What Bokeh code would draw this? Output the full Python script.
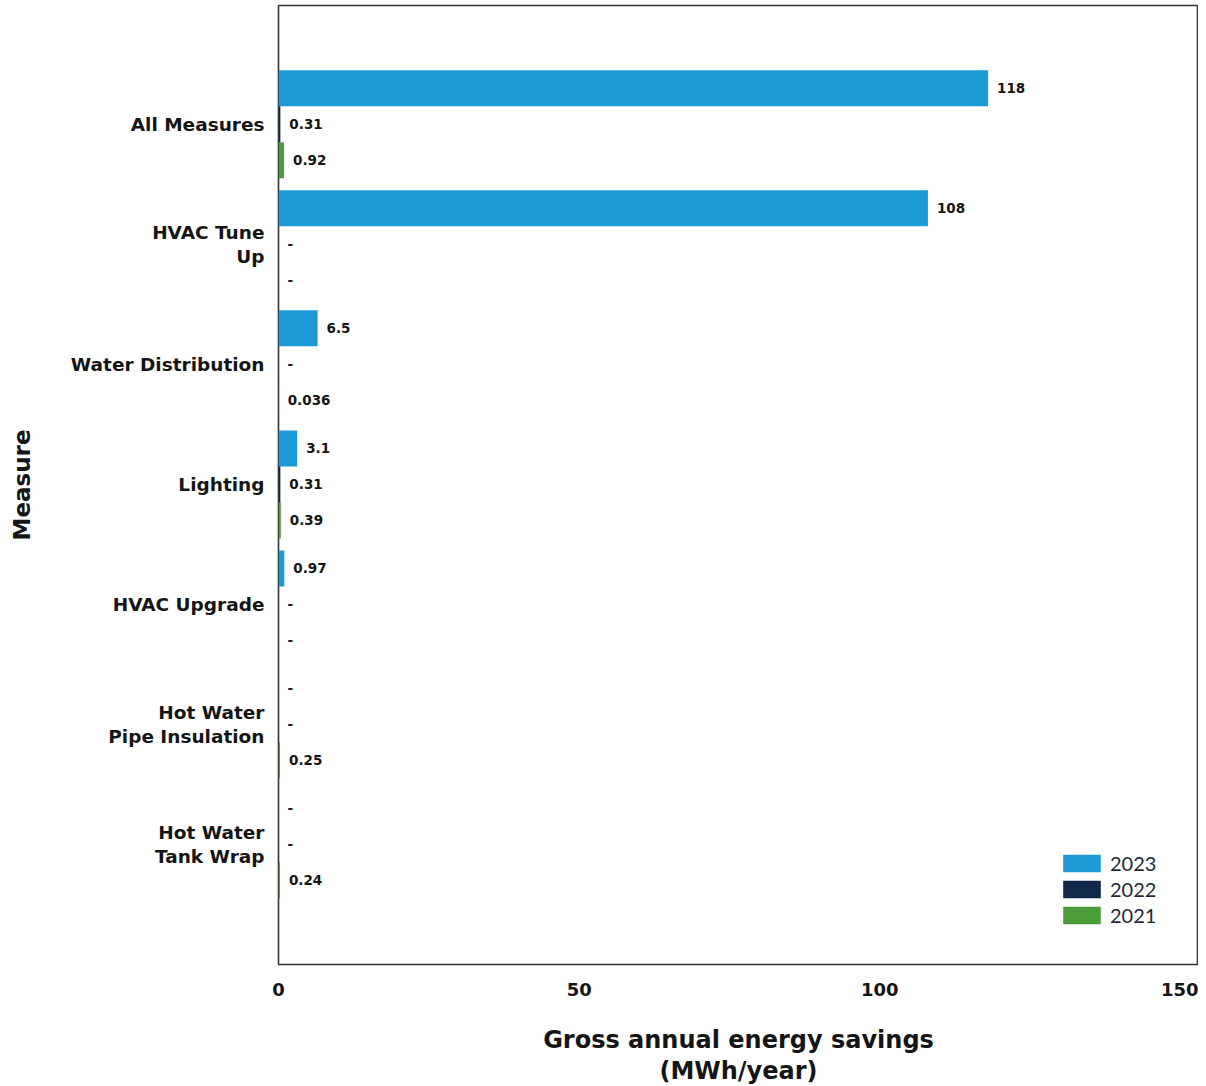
from bokeh.plotting import figure
from bokeh.models import Range1d, FixedTicker, ColumnDataSource, Legend, LegendItem
from bokeh.embed import file_html
from bokeh.resources import INLINE
from bokeh.core.properties import value

measures = ["All Measures", "HVAC Tune\nUp", "Water Distribution", "Lighting",
            "HVAC Upgrade", "Hot Water\nPipe Insulation", "Hot Water\nTank Wrap"]
years = ["2023", "2022", "2021"]
savings_2023 = [118, 108, 6.5, 3.1, 0.97, None, None]
savings_2022 = [0.31, None, None, 0.31, None, None, None]
savings_2021 = [0.92, None, 0.036, 0.39, None, 0.25, 0.24]
x_ticks = [0, 50, 100, 150]

series = [savings_2023, savings_2022, savings_2021]
colors = ["#1b9ad6", "#10284a", "#4c9c3b"]
offsets = [-0.3, 0.0, 0.3]

FONT = "DejaVu Sans"
TXT = "#151515"

p = figure(width=1198, frame_height=959,
           x_range=Range1d(0, 153), y_range=Range1d(7.0, -0.99),
           output_backend="svg", toolbar_location=None,
           min_border_left=278, min_border_top=5, min_border_right=0,
           min_border_bottom=0)
p.background_fill_color = "white"
p.border_fill_color = "white"
p.outline_line_color = "#333333"
p.outline_line_width = 1.6
p.xgrid.visible = False
p.ygrid.visible = False

renderers = []
for vals, col, off, yr in zip(series, colors, offsets, years):
    ys = [i + off for i in range(len(measures))]
    widths = [v if v is not None else 0 for v in vals]
    labels = [f"{v:g}" if v is not None else "-" for v in vals]
    src = ColumnDataSource(dict(y=ys, right=widths, label=labels))
    r = p.hbar(y="y", left=0, right="right", height=0.3, source=src,
               fill_color=col, line_color=None)
    renderers.append((yr, r))
    p.text(x="right", y="y", text="label", source=src, x_offset=9,
           text_baseline="middle", text_align="left",
           text_font=value(FONT), text_font_style="bold",
           text_font_size="13.5px", text_color=TXT)

# x axis
xa = p.xaxis[0]
xa.ticker = FixedTicker(ticks=x_ticks)
xa.axis_line_color = None
xa.major_tick_line_color = None
xa.minor_tick_line_color = None
xa.major_tick_out = 0
xa.major_label_standoff = 18
xa.major_label_text_font = FONT
xa.major_label_text_font_style = "bold"
xa.major_label_text_font_size = "18px"
xa.major_label_text_color = TXT
xa.axis_label = "Gross annual energy savings\n(MWh/year)"
xa.axis_label_text_font = FONT
xa.axis_label_text_font_style = "bold"
xa.axis_label_text_font_size = "24px"
xa.axis_label_text_color = TXT
xa.axis_label_text_line_height = 1.12
xa.axis_label_standoff = 27

# y axis
ya = p.yaxis[0]
ya.ticker = FixedTicker(ticks=list(range(len(measures))))
ya.major_label_overrides = {i: m for i, m in enumerate(measures)}
ya.axis_line_color = None
ya.major_tick_line_color = None
ya.minor_tick_line_color = None
ya.major_tick_out = 0
ya.major_label_standoff = 14
ya.major_label_text_font = FONT
ya.major_label_text_font_style = "bold"
ya.major_label_text_font_size = "18.5px"
ya.major_label_text_color = TXT
ya.major_label_text_line_height = 1.11
ya.major_label_text_align = "right"
ya.axis_label = "Measure"
ya.axis_label_text_font = FONT
ya.axis_label_text_font_style = "bold"
ya.axis_label_text_font_size = "23px"
ya.axis_label_text_color = TXT
ya.axis_label_standoff = 33

legend = Legend(items=[LegendItem(label=yr, renderers=[r]) for yr, r in renderers],
                location=(780, 37), orientation="vertical")
legend.border_line_color = None
legend.background_fill_alpha = 0
legend.padding = 0
legend.margin = 0
legend.spacing = 2
legend.glyph_width = 47
legend.glyph_height = 22
legend.label_height = 20
legend.label_standoff = 5
legend.label_text_font = "Lato"
legend.label_text_font_size = "20px"
legend.label_text_color = "#1c2a3c"
p.add_layout(legend)

open("out.html", "w").write(file_html(p, INLINE))
